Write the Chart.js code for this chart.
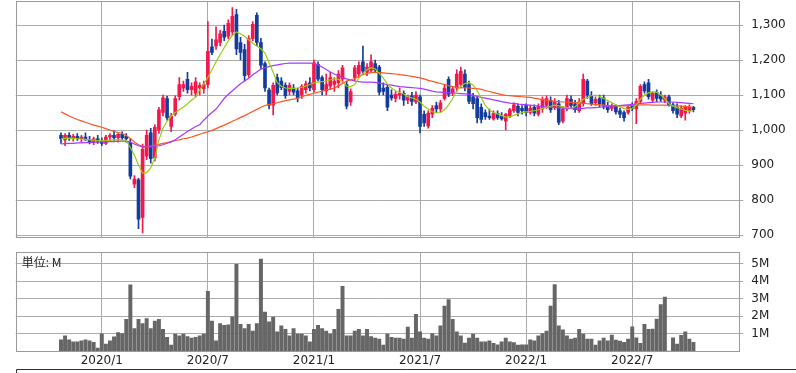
<!DOCTYPE html>
<html><head><meta charset="utf-8">
<script src="https://cdn.jsdelivr.net/npm/chart.js@4.4.1/dist/chart.umd.min.js"></script>
<style>
html,body{margin:0;padding:0;background:#fff;width:796px;height:373px;overflow:hidden;}
canvas{position:absolute;left:0;display:block;}
#c1{top:0;}
#c2{top:240px;}
</style></head><body>
<canvas id="c1" width="796" height="240"></canvas>
<canvas id="c2" width="796" height="133"></canvas>
<script>
// weekly candles (index = week number from first bar)
const openP = [
985,972,985,978,982,975,980,972,965,975,
968,962,980,985,978,988,982,965,845,858,
750,925,992,920,1000,1050,1090,1010,1045,1095,
1120,1145,1115,1105,1120,1118,1130,1238,1240,1250,
1282,1268,1280,1330,1250,1230,1158,1262,1328,1250,
1190,1114,1071,1150,1140,1128,1110,1120,1112,1100,
1115,1135,1115,1188,1150,1112,1125,1130,1135,1145,
1130,1080,1150,1160,1195,1165,1170,1190,1180,1120,
1122,1100,1090,1100,1105,1085,1098,1080,1095,1045,
1012,1045,1070,1060,1090,1145,1105,1120,1130,1160,
1130,1095,1090,1065,1050,1040,1032,1048,1040,1025,
1040,1055,1068,1062,1070,1050,1065,1045,1060,1070,
1085,1065,1075,1025,1060,1088,1075,1055,1075,1140,
1098,1078,1090,1092,1070,1062,1068,1055,1050,1050,
1070,1060,1082,1130,1135,1085,1108,1100,1085,1095,
1072,1065,1040,1048,1055,1065];
const highP = [
992,990,993,988,990,985,992,982,980,985,
978,985,990,998,990,995,990,975,870,862,
960,1000,1005,1015,1065,1100,1096,1048,1098,1150,
1140,1165,1135,1150,1135,1140,1310,1260,1295,1285,
1300,1315,1350,1345,1265,1245,1270,1310,1335,1262,
1195,1120,1135,1160,1150,1135,1135,1130,1120,1130,
1140,1150,1200,1195,1155,1160,1165,1150,1170,1185,
1140,1118,1185,1195,1240,1190,1215,1200,1185,1135,
1128,1115,1110,1120,1112,1100,1108,1110,1100,1055,
1055,1070,1080,1085,1130,1152,1125,1172,1180,1172,
1140,1105,1095,1075,1058,1060,1055,1055,1050,1048,
1062,1078,1075,1070,1075,1070,1072,1075,1095,1098,
1095,1090,1085,1068,1100,1098,1085,1090,1160,1145,
1110,1095,1100,1100,1080,1075,1072,1062,1055,1070,
1078,1090,1130,1138,1145,1110,1115,1110,1100,1100,
1078,1075,1070,1070,1072,1068];
const lowP = [
962,955,970,968,970,965,970,960,958,962,
955,958,968,970,965,972,965,860,835,718,
706,915,905,912,990,1040,1028,995,1040,1085,
1110,1105,1100,1095,1100,1105,1120,1215,1230,1240,
1255,1260,1270,1215,1200,1140,1150,1255,1240,1175,
1110,1060,1043,1100,1115,1090,1100,1100,1080,1090,
1105,1112,1108,1140,1100,1100,1115,1110,1120,1135,
1060,1070,1140,1150,1160,1155,1165,1165,1100,1100,
1055,1085,1080,1088,1070,1075,1070,1075,992,1010,
1005,1035,1050,1050,1085,1095,1098,1110,1120,1112,
1075,1060,1020,1020,1030,1030,1028,1030,1028,1000,
1035,1050,1040,1045,1040,1045,1040,1040,1050,1062,
1050,1058,1015,1020,1055,1062,1050,1050,1068,1090,
1070,1070,1065,1060,1050,1055,1045,1035,1025,1045,
1055,1018,1075,1105,1088,1078,1080,1082,1078,1068,
1048,1035,1035,1028,1048,1052];
const closeP = [
975,985,978,982,975,980,972,965,975,968,
962,980,985,978,988,978,975,868,860,745,
945,985,918,1008,1058,1092,1035,1040,1090,1130,
1130,1115,1125,1138,1128,1130,1225,1222,1258,1275,
1265,1305,1325,1232,1222,1155,1262,1302,1250,1185,
1120,1071,1128,1106,1122,1098,1128,1108,1092,1125,
1132,1120,1192,1145,1115,1130,1150,1140,1160,1178,
1068,1110,1178,1185,1168,1180,1195,1172,1108,1110,
1065,1092,1102,1105,1085,1095,1082,1100,1010,1020,
1048,1062,1060,1078,1120,1102,1118,1160,1168,1122,
1082,1075,1035,1030,1038,1035,1048,1035,1032,1045,
1058,1072,1050,1055,1050,1062,1048,1068,1088,1090,
1058,1080,1022,1060,1090,1070,1058,1080,1145,1100,
1075,1088,1075,1068,1058,1070,1052,1045,1035,1065,
1062,1082,1125,1112,1095,1105,1090,1088,1095,1072,
1055,1045,1062,1065,1065,1058];
// moving averages
const ma13 = [
975,976,977,976,975,974,973,972,971,970,
969,970,971,972,972,972,970,950,928,900,
877,878,892,920,972,1005,1025,1040,1050,1058,
1066,1075,1085,1094,1115,1132,1150,1172,1195,1215,
1235,1255,1270,1280,1275,1268,1258,1248,1240,1232,
1220,1192,1165,1135,1125,1120,1119,1119,1120,1122,
1126,1130,1135,1137,1138,1140,1143,1147,1145,1138,
1125,1124,1130,1148,1162,1172,1178,1175,1162,1148,
1132,1120,1112,1107,1103,1095,1092,1088,1080,1068,
1060,1052,1049,1050,1058,1072,1090,1112,1125,1133,
1136,1128,1112,1092,1070,1057,1050,1046,1041,1037,
1038,1042,1046,1050,1052,1053,1055,1058,1062,1065,
1068,1071,1069,1066,1064,1063,1066,1078,1088,1093,
1098,1100,1096,1090,1084,1078,1072,1066,1061,1059,
1062,1072,1088,1100,1106,1109,1108,1100,1090,1075,
1068,1064,1060,1056,1054,1055];
const ma26 = [
960,961,962,962,963,963,964,964,965,965,
966,966,967,967,968,968,968,965,960,955,
952,951,952,953,955,958,962,966,972,980,
988,996,1003,1010,1015,1028,1040,1050,1060,1075,
1090,1102,1112,1122,1132,1140,1148,1158,1166,1174,
1178,1181,1184,1186,1188,1190,1191,1191,1191,1191,
1191,1191,1190,1186,1180,1173,1166,1160,1155,1150,
1146,1143,1140,1138,1137,1137,1137,1136,1134,1132,
1130,1128,1126,1124,1123,1122,1121,1120,1119,1117,
1114,1111,1109,1108,1107,1106,1106,1105,1104,1103,
1102,1099,1096,1093,1091,1089,1086,1084,1081,1079,
1077,1076,1074,1073,1072,1071,1070,1068,1067,1066,
1065,1064,1063,1063,1062,1061,1060,1061,1062,1063,
1063,1064,1065,1066,1067,1068,1069,1070,1071,1072,
1073,1074,1076,1077,1078,1079,1080,1080,1080,1080,
1080,1079,1078,1077,1076,1075];
const ma52 = [
1052,1046,1040,1035,1030,1026,1022,1018,1014,1011,
1008,1004,1000,996,993,990,984,976,966,958,
953,952,954,956,959,962,964,967,970,972,
975,977,980,984,988,992,995,999,1004,1009,
1014,1019,1025,1030,1036,1041,1047,1053,1059,1065,
1070,1073,1075,1078,1081,1084,1086,1088,1091,1095,
1099,1102,1105,1108,1111,1114,1117,1120,1126,1133,
1140,1143,1147,1153,1158,1162,1164,1165,1164,1163,
1162,1161,1160,1158,1157,1155,1153,1151,1149,1146,
1142,1139,1136,1133,1130,1127,1124,1122,1121,1120,
1120,1119,1118,1116,1113,1110,1107,1104,1101,1099,
1098,1097,1096,1095,1094,1093,1091,1089,1087,1085,
1083,1082,1081,1080,1080,1079,1078,1077,1076,1075,
1074,1073,1072,1071,1070,1069,1069,1069,1069,1069,
1070,1071,1072,1072,1072,1071,1071,1071,1071,1070,
1070,1069,1068,1067,1066,1065];
// weekly volume, millions
const volumeM = [
0.64,0.87,0.64,0.53,0.53,0.58,0.64,0.59,0.50,0.17,
0.98,0.40,0.59,0.81,1.06,1.00,1.82,3.80,1.29,1.82,
1.57,1.86,1.29,1.72,1.82,1.25,0.78,0.34,0.97,0.87,
0.97,0.83,0.74,0.78,0.87,0.97,3.43,1.72,0.59,1.57,
1.48,1.50,1.97,4.98,1.53,1.29,1.53,1.15,1.57,5.28,
2.23,1.67,1.95,1.10,1.44,1.25,0.87,1.29,0.97,0.97,
0.87,0.53,1.25,1.48,1.29,1.15,0.97,1.25,2.39,3.71,
0.87,0.87,1.15,1.25,0.87,1.25,0.83,0.74,0.68,0.34,
0.97,0.78,0.74,
0.74,0.68,1.38,0.74,2.10,1.10,0.74,0.68,1.00,0.87,
1.44,2.58,2.95,1.82,1.10,0.87,0.45,0.74,0.97,0.74,
0.53,0.53,0.59,0.44,0.36,0.53,0.74,0.53,0.49,0.34,
0.36,0.36,0.64,0.59,0.87,1.00,1.15,2.58,3.81,1.44,
1.21,0.87,0.68,0.74,1.25,0.97,0.68,0.68,0.34,0.59,
0.74,0.59,
0.91,0.63,0.57,0.50,0.69,1.39,0.76,0.44,1.53,1.24,
1.26,1.83,2.67,3.10,0,0.76,0.40,0.90,1.10,0.69,0.50];
const priceTicks = [700,800,900,1000,1100,1200,1300];
const volTicks = [1,2,3,4,5];
const dateTickWeeks = [10,36,62,88,114,140];
const dateTickLabels = ['2020/1','2020/7','2021/1','2021/7','2022/1','2022/7'];

const RED = '#f5164b', BLUE = '#133c9c';
const GREEN = '#9acc10', PURPLE = '#a838ff', ORANGE = '#ff5522';
const GRID = '#ababab', FRAME = '#9a9a9a', TXT = '#222';
const FONT = {family:'DejaVu Sans', size:12};
const XMIN = -11.1, XMAX = 166.0, YW = 57.7;

const weeks = closeP.map((_, i) => i);
const candleCol = weeks.map(i => closeP[i] >= openP[i] ? RED : BLUE);

const frame = {
  id:'frame',
  afterDraw(chart){
    const {ctx, chartArea:a} = chart;
    ctx.save();
    ctx.strokeStyle = FRAME; ctx.lineWidth = 1;
    ctx.strokeRect(Math.round(a.left)+0.5, Math.round(a.top)+0.5, Math.round(a.right-a.left), Math.round(a.bottom-a.top));
    ctx.restore();
  }
};

function noPad(s){ s.paddingTop = 0; s.paddingBottom = 0; s.paddingLeft = 0; s.paddingRight = 0; }

function xScale(showLabels){
  return {
    type:'linear', min:XMIN, max:XMAX, offset:false,
    afterBuildTicks: s => { s.ticks = dateTickWeeks.map(v => ({value:v})); },
    afterFit: s => { s.height = showLabels ? 22 : 0; noPad(s); },
    ticks:{display:showLabels, autoSkip:false, maxRotation:0, color:TXT, font:FONT, padding:3,
      callback: v => { const k = dateTickWeeks.indexOf(v); return k >= 0 ? dateTickLabels[k] : ''; }},
    grid:{color:GRID, drawTicks:false, offset:false},
    border:{display:false}
  };
}

new Chart(document.getElementById('c1'), {
  type:'bar',
  data:{datasets:[
    {type:'line', data:weeks.map(i=>({x:i,y:ma13[i]})), borderColor:GREEN, borderWidth:1.2, pointRadius:0, tension:0, order:0},
    {type:'line', data:weeks.map(i=>({x:i,y:ma26[i]})), borderColor:PURPLE, borderWidth:1.2, pointRadius:0, tension:0, order:1},
    {type:'line', data:weeks.map(i=>({x:i,y:ma52[i]})), borderColor:ORANGE, borderWidth:1.2, pointRadius:0, tension:0, order:2},
    {type:'bar', data:weeks.map(i=>({x:i,y:[openP[i],closeP[i]]})), backgroundColor:candleCol, barThickness:3, grouped:false, minBarLength:1, order:3},
    {type:'bar', data:weeks.map(i=>({x:i,y:[lowP[i],highP[i]]})), backgroundColor:candleCol, barThickness:1, grouped:false, order:4}
  ]},
  options:{
    responsive:false, animation:false, events:[],
    layout:{padding:{left:15.7, top:1, right:0, bottom:3}},
    plugins:{legend:{display:false}, tooltip:{enabled:false}},
    scales:{
      x: xScale(false),
      y:{type:'linear', position:'right', min:694.3, max:1368.6,
        afterBuildTicks: s => { s.ticks = priceTicks.map(v => ({value:v})); },
        afterFit: s => { s.width = YW; noPad(s); },
        ticks:{color:TXT, font:FONT, padding:8, callback: v => v.toLocaleString('en-US')},
        grid:{color:GRID, tickLength:5},
        border:{display:false}}
    }
  },
  plugins:[frame]
});

const volDeco = {
  id:'volDeco',
  afterDraw(chart){
    const {ctx, chartArea:a} = chart;
    ctx.save();
    ctx.fillStyle = TXT;
    ctx.font = '12px "Noto Sans CJK JP"';
    ctx.textBaseline = 'middle';
    ctx.textAlign = 'left';
    ctx.fillText('単位: M', a.left + 6, 22);
    ctx.strokeStyle = '#333'; ctx.lineWidth = 1;
    ctx.beginPath();
    ctx.moveTo(Math.round(a.left)+0.5, 133);
    ctx.lineTo(Math.round(a.left)+0.5, 129.5);
    ctx.lineTo(796, 129.5);
    ctx.stroke();
    ctx.restore();
  }
};

new Chart(document.getElementById('c2'), {
  type:'bar',
  data:{datasets:[
    {data:weeks.map(i=>({x:i,y:volumeM[i]})), backgroundColor:'#666666', barThickness:3.3, grouped:false}
  ]},
  options:{
    responsive:false, animation:false, events:[],
    layout:{padding:{left:15.7, top:12.3, right:0, bottom:0}},
    plugins:{legend:{display:false}, tooltip:{enabled:false}},
    scales:{
      x: xScale(true),
      y:{type:'linear', position:'right', min:0, max:5.67,
        afterBuildTicks: s => { s.ticks = volTicks.map(v => ({value:v})); },
        afterFit: s => { s.width = YW; noPad(s); },
        ticks:{color:TXT, font:FONT, padding:8, callback: v => v + 'M'},
        grid:{color:GRID, tickLength:5},
        border:{display:false}}
    }
  },
  plugins:[frame, volDeco]
});
</script>
</body></html>
